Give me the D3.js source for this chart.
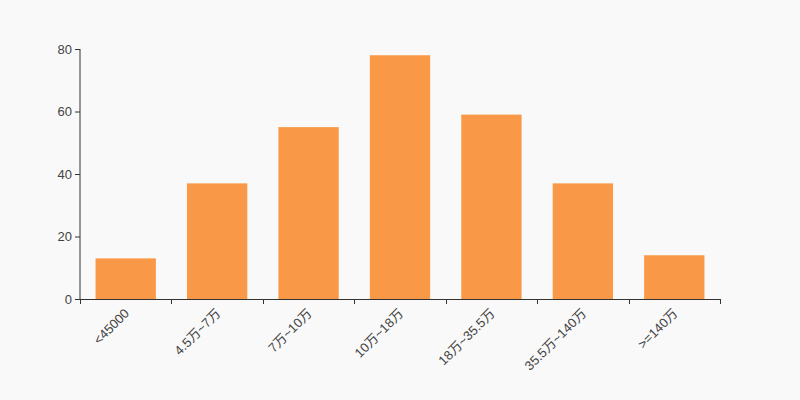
<!DOCTYPE html>
<html><head><meta charset="utf-8">
<script src="https://cdn.jsdelivr.net/npm/d3@7"></script>
<style>body{margin:0;background:#f9f9f9;}svg{display:block;font-family:"Liberation Sans",Arial,"Noto Sans CJK SC",sans-serif;}</style>
</head><body>
<svg id="c" width="800" height="400"></svg>
<script>
const categories = ["<45000","4.5万~7万","7万~10万","10万~18万","18万~35.5万","35.5万~140万",">=140万"];
const values = [13,37,55,78,59,37,14];
const yTicks = [0,20,40,60,80];

const svg = d3.select("#c");
svg.append("rect").attr("width",800).attr("height",400).attr("fill","#f9f9f9");
const m = {l:80, r:80, t:49, b:101};
const W = 800, H = 400;
const x = d3.scaleBand().domain(categories).range([m.l, W-m.r]).paddingInner(0.34).paddingOuter(0.17);
const y = d3.scaleLinear().domain([0,80]).range([H-m.b, m.t]);

svg.append("g").selectAll("rect").data(values).join("rect")
  .attr("x",(d,i)=>x(categories[i]))
  .attr("width",x.bandwidth())
  .attr("y",d=>y(d))
  .attr("height",d=>y(0)-y(d))
  .attr("fill","#f99847");

const ya = svg.append("g").attr("transform",`translate(${m.l},0)`)
  .call(d3.axisLeft(y).tickValues(yTicks).tickSize(5).tickPadding(3));
ya.selectAll("path,line").attr("stroke","#333");
ya.selectAll("text").attr("fill","#444").style("font-size","13px");
ya.select(".domain").attr("d",`M0,${y(80)}V${y(0)}`);

const step = x.step();
const xa = svg.append("g");
xa.append("line").attr("x1",m.l).attr("x2",W-m.r).attr("y1",y(0)+0.5).attr("y2",y(0)+0.5).attr("stroke","#333");
const bounds = d3.range(categories.length+1).map(i=>m.l + i*step);
xa.selectAll("line.t").data(bounds).join("line").attr("class","t")
  .attr("x1",d=>Math.round(d)+0.5).attr("x2",d=>Math.round(d)+0.5)
  .attr("y1",y(0)).attr("y2",y(0)+5).attr("stroke","#333");
xa.selectAll("text").data(categories).join("text")
  .attr("transform",d=>`translate(${x(d)+x.bandwidth()/2+1},${y(0)+12}) rotate(-45)`)
  .attr("text-anchor","end").attr("dy","0.35em")
  .attr("fill","#444").style("font-size","13px").text(d=>d);
</script>
</body></html>
